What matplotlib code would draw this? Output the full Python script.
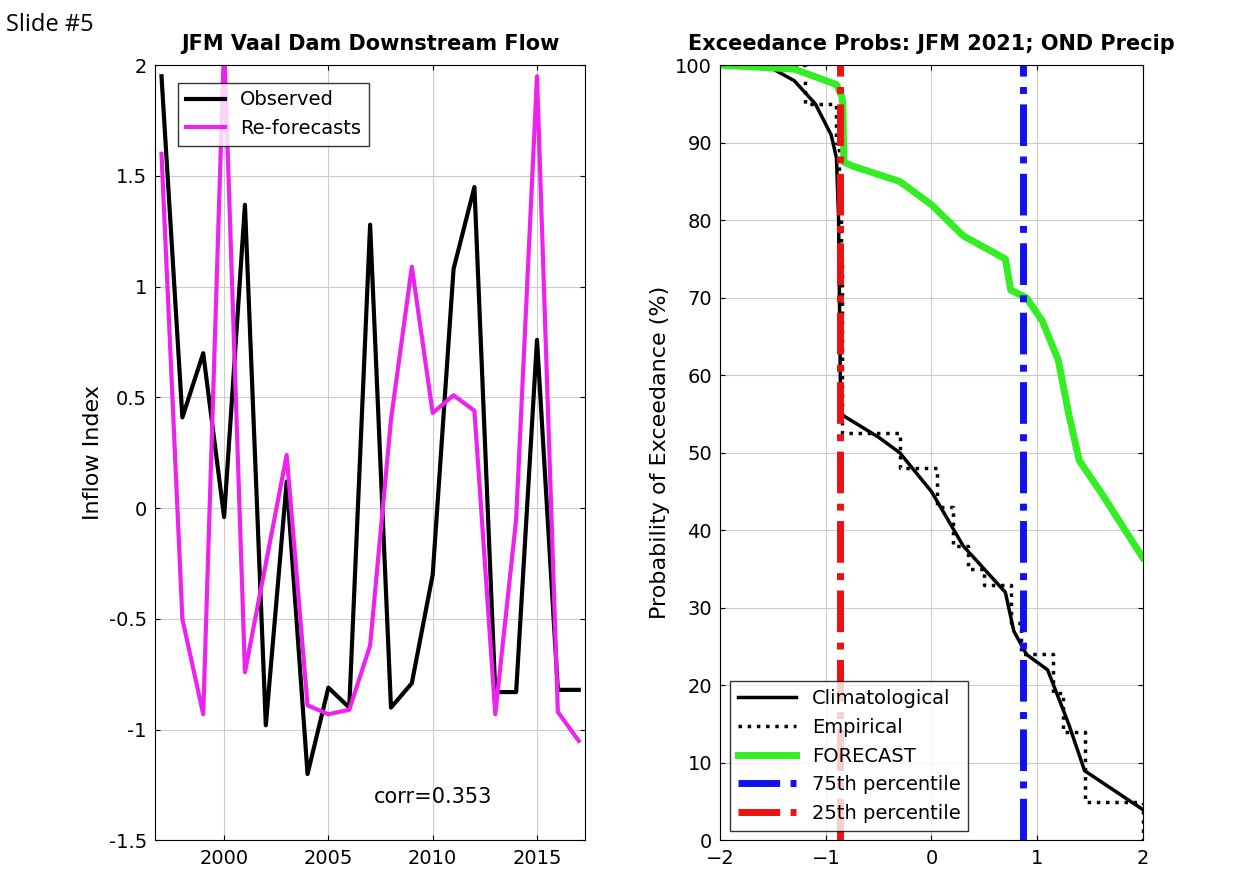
import matplotlib.pyplot as plt

years = list(range(1997, 2018))
observed = [1.95, 0.41, 0.70, -0.04, 1.37, -0.98, 0.12, -1.20, -0.81, -0.90, 1.28,
            -0.90, -0.79, -0.30, 1.08, 1.45, -0.83, -0.83, 0.76, -0.82, -0.82]
reforecast = [1.60, -0.50, -0.93, 2.10, -0.74, -0.25, 0.24, -0.89, -0.93, -0.91, -0.62,
              0.40, 1.09, 0.43, 0.51, 0.44, -0.93, -0.05, 1.95, -0.92, -1.05]

clim_x = [-2, -1.5, -1.3, -1.1, -0.95, -0.9, -0.88, -0.86, -0.5, -0.3, 0, 0.3, 0.7, 0.78, 0.9, 1.1, 1.3, 1.45, 2]
clim_y = [100, 99.5, 98, 95, 91, 88, 80, 55, 52, 50, 45, 38, 32, 27, 24, 22, 15, 9, 4]
emp_x = [-2, -1.25, -1.2, -1.05, -0.9, -0.88, -0.86, -0.85, -0.35, -0.3, -0.1, 0.05, 0.2, 0.35, 0.5, 0.7, 0.75, 0.85, 1.15, 1.25, 1.45, 1.95, 2]
emp_y = [100, 100, 95, 95, 90, 85, 75, 52.5, 52.5, 48, 48, 43, 38, 35, 33, 33, 28, 24, 19, 14, 5, 5, 0]
fc_x = [-2, -1.3, -1.0, -0.9, -0.85, -0.84, -0.83, -0.75, -0.3, 0, 0.3, 0.7, 0.75, 0.9, 1.05, 1.2, 1.3, 1.4, 1.6, 2]
fc_y = [100, 99.5, 98, 97.5, 96, 95, 87.5, 87, 85, 82, 78, 75, 71, 70, 67, 62, 55, 49, 45, 36.5]
p25 = -0.87
p75 = 0.87

fig = plt.figure(figsize=(12.42, 8.81), dpi=100)
fig.text(0.005, 0.965, 'Slide #5', fontsize=17, family='Open Sans')

ax1 = fig.add_axes([0.125, 0.046, 0.346, 0.88])
ax1.plot(years, observed, color='black', lw=3, label='Observed')
ax1.plot(years, reforecast, color='#ee22ee', lw=3, label='Re-forecasts')
ax1.set_xlim(1996.7, 2017.3)
ax1.set_ylim(-1.5, 2)
ax1.set_xticks([2000, 2005, 2010, 2015])
ax1.set_yticks([-1.5, -1, -0.5, 0, 0.5, 1, 1.5, 2])
ax1.set_yticklabels(['-1.5', '-1', '-0.5', '0', '0.5', '1', '1.5', '2'])
ax1.set_ylabel('Inflow Index', fontsize=16)
ax1.set_title('JFM Vaal Dam Downstream Flow', fontsize=15, fontweight='bold', pad=11)
ax1.text(2010, -1.33, 'corr=0.353', ha='center', fontsize=15)
ax1.grid(True, color='#cccccc', lw=0.8)
ax1.legend(loc='upper left', fontsize=14, bbox_to_anchor=(0.03, 0.99), fancybox=False, edgecolor='black')

ax2 = fig.add_axes([0.58, 0.046, 0.34, 0.88])
ax2.plot(clim_x, clim_y, color='black', lw=2.5, label='Climatological')
ax2.plot(emp_x, emp_y, color='black', lw=2.5, ls=':', drawstyle='steps-post', label='Empirical')
ax2.plot(fc_x, fc_y, color='#33ee22', lw=5, label='FORECAST')
ax2.axvline(p75, color='#1111ee', lw=5, dashes=(6, 1.5, 1, 1.5), label='75th percentile')
ax2.axvline(p25, color='#ee1111', lw=5, dashes=(6, 1.5, 1, 1.5), label='25th percentile')
ax2.set_xlim(-2, 2)
ax2.set_ylim(0, 100)
ax2.set_xticks([-2, -1, 0, 1, 2])
ax2.set_yticks(range(0, 101, 10))
ax2.set_ylabel('Probability of Exceedance (%)', fontsize=16)
ax2.set_title('Exceedance Probs: JFM 2021; OND Precip', fontsize=15, fontweight='bold', pad=11)
ax2.grid(True, color='#cccccc', lw=0.8)
ax2.legend(loc='lower left', fontsize=14, fancybox=False, edgecolor='black', handlelength=3)

for ax in (ax1, ax2):
    ax.tick_params(labelsize=14, top=True, right=True, direction='in')
    ax.tick_params(axis='both', which='major', pad=6)

fig.savefig('out.png')
